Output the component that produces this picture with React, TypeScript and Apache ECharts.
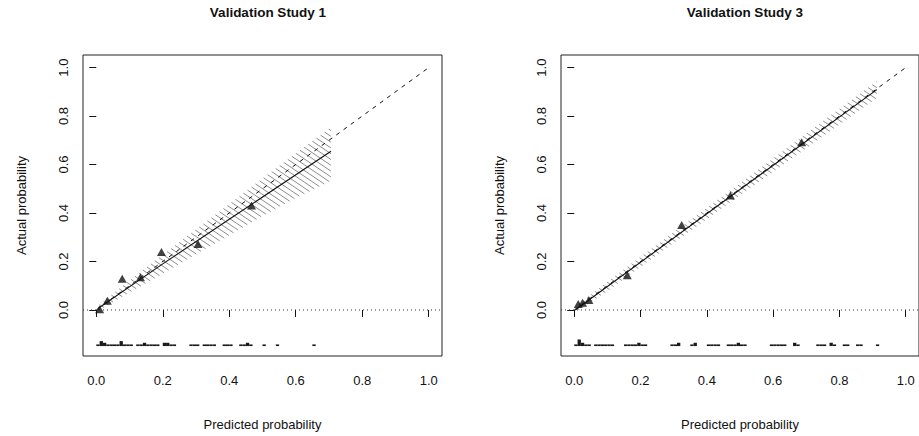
import React, { useEffect, useRef } from "react";
import * as echarts from "echarts";

// ---------- shared axis settings ----------
const tickValues = [0, 0.2, 0.4, 0.6, 0.8, 1.0];
const xRange = [-0.04, 1.04];
const yRange = [-0.19, 1.052];
const idealX = [0, 1];
const idealY = [0, 1];
const rugBase = -0.149;
const rugUnit = 0.0068;

// ---------- Validation Study 1 ----------
const s1Pred = [0.01, 0.033, 0.078, 0.133, 0.196, 0.306, 0.467];
const s1Obs = [0.003, 0.038, 0.129, 0.135, 0.239, 0.272, 0.431];
const s1CurveX = [0.005, 0.2, 0.4, 0.706];
const s1CurveY = [0.006, 0.19, 0.374, 0.655];
const s1BandX = [0.005, 0.1, 0.2, 0.3, 0.4, 0.5, 0.6, 0.706];
const s1BandLo = [-0.004, 0.072, 0.15, 0.23, 0.308, 0.388, 0.462, 0.533];
const s1BandHi = [0.016, 0.122, 0.228, 0.332, 0.437, 0.542, 0.646, 0.753];
const s1RugX = [0.005, 0.015, 0.025, 0.035, 0.045, 0.055, 0.065, 0.075, 0.085, 0.095, 0.105, 0.125, 0.135, 0.145, 0.155, 0.165, 0.175, 0.185, 0.205, 0.215, 0.225, 0.235, 0.285, 0.295, 0.305, 0.325, 0.335, 0.345, 0.355, 0.385, 0.395, 0.405, 0.435, 0.445, 0.455, 0.465, 0.505, 0.545, 0.655];
const s1RugN = [1, 3, 2, 1, 1, 1, 1, 3, 1, 1, 1, 1, 1, 2, 1, 1, 1, 1, 2, 2, 1, 1, 1, 1, 1, 1, 1, 1, 1, 1, 1, 1, 1, 1, 2, 1, 1, 1, 1];

// ---------- Validation Study 3 ----------
const s3Pred = [0.012, 0.025, 0.044, 0.16, 0.324, 0.471, 0.686];
const s3Obs = [0.025, 0.03, 0.041, 0.143, 0.351, 0.472, 0.692];
const s3CurveX = [0.003, 0.5, 0.913];
const s3CurveY = [0.0, 0.497, 0.909];
const s3BandX = [0.008, 0.1, 0.3, 0.5, 0.7, 0.913];
const s3BandLo = [-0.006, 0.078, 0.277, 0.473, 0.668, 0.875];
const s3BandHi = [0.018, 0.116, 0.321, 0.522, 0.728, 0.944];
const s3RugX = [0.005, 0.015, 0.025, 0.035, 0.045, 0.065, 0.075, 0.085, 0.095, 0.105, 0.115, 0.155, 0.165, 0.175, 0.185, 0.195, 0.205, 0.215, 0.295, 0.305, 0.315, 0.355, 0.365, 0.405, 0.415, 0.425, 0.435, 0.465, 0.475, 0.485, 0.495, 0.505, 0.515, 0.595, 0.605, 0.615, 0.625, 0.635, 0.665, 0.675, 0.735, 0.745, 0.755, 0.775, 0.785, 0.815, 0.825, 0.855, 0.865, 0.915];
const s3RugN = [1, 4, 2, 1, 1, 1, 1, 1, 1, 1, 1, 1, 1, 1, 1, 2, 1, 1, 1, 1, 2, 1, 2, 1, 1, 1, 1, 1, 1, 1, 2, 1, 1, 1, 1, 1, 1, 1, 2, 1, 1, 1, 1, 2, 1, 1, 1, 1, 1, 1];

const FONT = "'Liberation Sans', Arial, Helvetica, sans-serif";
const INK = "#111";

function hatchRenderer(bx: number[], lo: number[], hi: number[]) {
  return (params: any, api: any) => {
    if (params.dataIndex !== 0) return null;
    const up = bx.map((x, i) => api.coord([x, hi[i]]));
    const dn = bx.map((x, i) => api.coord([x, lo[i]])).reverse();
    const poly = up.concat(dn);
    const ang = (34 * Math.PI) / 180;
    const d = [Math.cos(ang), Math.sin(ang)];
    const n = [-d[1], d[0]];
    const spacing = 4.8;
    const cs = poly.map((p: number[]) => n[0] * p[0] + n[1] * p[1]);
    const cmin = Math.min(...cs);
    const cmax = Math.max(...cs);
    const children: any[] = [];
    for (let c = Math.ceil(cmin / spacing) * spacing; c <= cmax; c += spacing) {
      const pts: number[][] = [];
      for (let i = 0; i < poly.length; i++) {
        const a = poly[i];
        const b = poly[(i + 1) % poly.length];
        const fa = n[0] * a[0] + n[1] * a[1] - c;
        const fb = n[0] * b[0] + n[1] * b[1] - c;
        if (fa < 0 !== fb < 0) {
          const t = fa / (fa - fb);
          const px = a[0] + (b[0] - a[0]) * t;
          const py = a[1] + (b[1] - a[1]) * t;
          pts.push([px, py, d[0] * px + d[1] * py]);
        }
      }
      pts.sort((p, q) => p[2] - q[2]);
      for (let k = 0; k + 1 < pts.length; k += 2) {
        children.push({
          type: "line",
          shape: { x1: pts[k][0], y1: pts[k][1], x2: pts[k + 1][0], y2: pts[k + 1][1] },
          style: { stroke: "#8e8e8e", lineWidth: 1 },
        });
      }
    }
    return { type: "group", children };
  };
}

function rugRenderer(params: any, api: any) {
  const x = api.value(0);
  const n = api.value(1);
  const p1 = api.coord([x - 0.005, rugBase + n * rugUnit]);
  const p2 = api.coord([x + 0.005, rugBase]);
  return {
    type: "rect",
    shape: { x: p1[0], y: p1[1], width: p2[0] - p1[0], height: p2[1] - p1[1] },
    style: { fill: "#1a1a1a" },
  };
}

function panelSeries(
  idx: number,
  pred: number[],
  obs: number[],
  cx: number[],
  cy: number[],
  bx: number[],
  blo: number[],
  bhi: number[],
  rx: number[],
  rn: number[]
) {
  return [
    {
      type: "custom",
      xAxisIndex: idx,
      yAxisIndex: idx,
      renderItem: hatchRenderer(bx, blo, bhi),
      data: bx.map((x, i) => [x, blo[i], bhi[i]]),
      clip: true,
      silent: true,
      z: 1,
    },
    {
      type: "line",
      xAxisIndex: idx,
      yAxisIndex: idx,
      data: [
        [xRange[0], 0],
        [xRange[1], 0],
      ],
      showSymbol: false,
      symbol: "none",
      lineStyle: { color: "#333", width: 1, type: [1, 3] },
      silent: true,
      z: 2,
    },
    {
      type: "line",
      xAxisIndex: idx,
      yAxisIndex: idx,
      data: idealX.map((x, i) => [x, idealY[i]]),
      symbol: "none",
      lineStyle: { color: "#111", width: 1, type: [4, 5] },
      silent: true,
      z: 3,
    },
    {
      type: "line",
      xAxisIndex: idx,
      yAxisIndex: idx,
      data: cx.map((x, i) => [x, cy[i]]),
      symbol: "none",
      lineStyle: { color: "#111", width: 1.1 },
      silent: true,
      z: 4,
    },
    {
      type: "scatter",
      xAxisIndex: idx,
      yAxisIndex: idx,
      data: pred.map((x, i) => [x, obs[i]]),
      symbol: "triangle",
      symbolSize: [9, 8],
      itemStyle: { color: INK },
      silent: true,
      z: 5,
    },
    {
      type: "custom",
      xAxisIndex: idx,
      yAxisIndex: idx,
      renderItem: rugRenderer,
      data: rx.map((x, i) => [x, rn[i]]),
      silent: true,
      z: 5,
    },
  ];
}

function xAxisCfg(idx: number) {
  return {
    type: "value",
    gridIndex: idx,
    min: xRange[0],
    max: xRange[1],
    axisLine: { show: false },
    splitLine: { show: false },
    axisTick: { show: true, customValues: tickValues, length: 7, lineStyle: { color: INK, width: 1 } },
    axisLabel: {
      customValues: tickValues,
      formatter: (v: number) => v.toFixed(1),
      margin: 18,
      fontSize: 13,
      color: INK,
      fontFamily: FONT,
    },
    name: "Predicted probability",
    nameLocation: "middle",
    nameGap: 62,
    nameTextStyle: { fontSize: 13, color: INK, fontFamily: FONT },
  };
}

function yAxisCfg(idx: number) {
  return {
    type: "value",
    gridIndex: idx,
    min: yRange[0],
    max: yRange[1],
    axisLine: { show: false },
    splitLine: { show: false },
    axisTick: { show: true, customValues: tickValues, length: 7, lineStyle: { color: INK, width: 1 } },
    axisLabel: {
      customValues: tickValues,
      formatter: (v: number) => v.toFixed(1),
      rotate: 90,
      margin: 13,
      fontSize: 13,
      color: INK,
      fontFamily: FONT,
    },
    name: "Actual probability",
    nameLocation: "middle",
    nameGap: 55,
    nameTextStyle: { fontSize: 13, color: INK, fontFamily: FONT },
  };
}

export default function App() {
  const ref = useRef<HTMLDivElement>(null);
  useEffect(() => {
    if (!ref.current) return;
    const chart = echarts.init(ref.current, undefined, { renderer: "svg" });
    chart.setOption({
      animation: false,
      backgroundColor: "#fff",
      title: [
        {
          text: "Validation Study 1",
          left: 263,
          top: 0,
          textAlign: "center",
          textStyle: { fontSize: 13.5, fontWeight: "bold", color: INK, fontFamily: FONT },
        },
        {
          text: "Validation Study 3",
          left: 740,
          top: 0,
          textAlign: "center",
          textStyle: { fontSize: 13.5, fontWeight: "bold", color: INK, fontFamily: FONT },
        },
      ],
      grid: [
        { left: 83, top: 55, width: 359, height: 301, show: true, borderColor: "#222", borderWidth: 1, backgroundColor: "transparent" },
        { left: 561, top: 55, width: 359, height: 301, show: true, borderColor: "#222", borderWidth: 1, backgroundColor: "transparent" },
      ],
      xAxis: [xAxisCfg(0), xAxisCfg(1)],
      yAxis: [yAxisCfg(0), yAxisCfg(1)],
      series: [
        ...panelSeries(0, s1Pred, s1Obs, s1CurveX, s1CurveY, s1BandX, s1BandLo, s1BandHi, s1RugX, s1RugN),
        ...panelSeries(1, s3Pred, s3Obs, s3CurveX, s3CurveY, s3BandX, s3BandLo, s3BandHi, s3RugX, s3RugN),
      ],
    });
    return () => chart.dispose();
  }, []);
  return (
    <div
      ref={ref}
      style={{ position: "absolute", left: 0, top: 0, width: 919, height: 436, background: "#fff" }}
    />
  );
}
